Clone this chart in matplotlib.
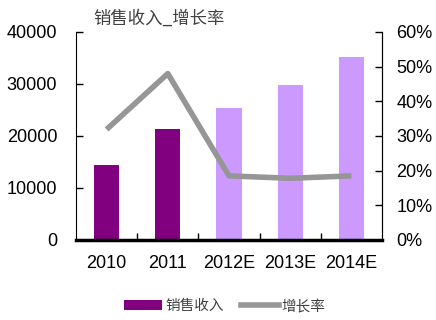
import matplotlib
matplotlib.use("Agg")
import matplotlib.pyplot as plt
from matplotlib.patches import Patch
from matplotlib.lines import Line2D
import numpy as np

plt.rcParams['font.family'] = ['Liberation Sans', 'Noto Sans CJK SC', 'DejaVu Sans']

categories = ['2010', '2011', '2012E', '2013E', '2014E']
revenue = [14400, 21300, 25400, 29800, 35200]
growth = [31.9, 48.0, 18.5, 17.8, 18.5]
bar_colors = ['#800080', '#800080', '#CC99FF', '#CC99FF', '#CC99FF']
left_ticks = [0, 10000, 20000, 30000, 40000]
right_ticks = [0, 10, 20, 30, 40, 50, 60]

fig = plt.figure(figsize=(4.36, 3.2), dpi=100)
ax = fig.add_axes([76/436, 1-240/320, 306/436, 208/320])
x = np.arange(len(categories))
ax.bar(x, revenue, width=0.41, color=bar_colors, zorder=2)
ax.set_xlim(-0.5, len(categories)-0.5)
ax.set_ylim(0, 40000)
ax.set_yticks(left_ticks)
ax.set_yticklabels([str(v) for v in left_ticks], fontsize=13, family=['Liberation Sans', 'DejaVu Sans'])
ax.set_xticks(x)
ax.set_xticklabels(categories, fontsize=13, family=['Liberation Sans', 'DejaVu Sans'])
ax.tick_params(axis='x', length=0, pad=11)
ax.set_xticks(np.arange(0.5, len(categories)-0.5, 1), minor=True)
ax.tick_params(axis='x', which='minor', direction='in', length=5, width=1, color='black')
ax.tick_params(axis='y', direction='in', length=5, width=1, pad=13.5)
ax.spines['top'].set_visible(False)
ax.spines['bottom'].set_linewidth(2.5)
ax.spines['left'].set_linewidth(0.8)
ax.spines['right'].set_linewidth(0.8)

ax2 = ax.twinx()
ax2.plot(x, growth, color='#969696', linewidth=4, solid_capstyle='butt', zorder=3)
ax2.set_ylim(0, 60)
ax2.set_yticks(right_ticks)
ax2.set_yticklabels([f'{v}%' for v in right_ticks], fontsize=13, family=['Liberation Sans', 'DejaVu Sans'])
ax2.tick_params(axis='y', direction='in', length=5, width=1, pad=10.5)
ax2.spines['top'].set_visible(False)
ax2.spines['right'].set_linewidth(0.8)
ax2.spines['bottom'].set_visible(False)
ax2.spines['left'].set_visible(False)

fig.text(93/436, 1-19/320, '销售收入_增长率', fontsize=12.5, color='#404040',
         family=['Noto Sans CJK SC', 'DejaVu Sans'], va='center', ha='left')

handles = [Patch(facecolor='#800080', edgecolor='none'),
           Line2D([0], [0], color='#969696', linewidth=4)]
fig.legend(handles, ['销售收入', '增长率'], loc='center', bbox_to_anchor=(225/436, 1-306/320),
           ncol=2, frameon=False, prop={'family': ['Noto Sans CJK SC'], 'size': 10.5},
           handlelength=2.6, handleheight=0.65, handletextpad=0.2, columnspacing=1.2, labelcolor='#404040')

fig.savefig('out.png', dpi=100)
